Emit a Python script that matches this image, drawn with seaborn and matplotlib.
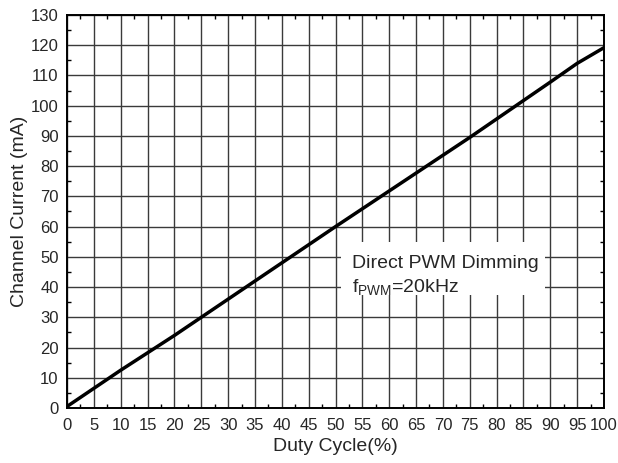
import matplotlib
matplotlib.use("Agg")
import matplotlib.pyplot as plt
from matplotlib.ticker import MultipleLocator
import numpy as np
import pandas as pd
import seaborn as sns

# values
duty = [0, 5, 10, 20, 25, 50, 75, 90, 95, 100]
current = [0.5, 6.5, 12.5, 24, 30, 60, 89.5, 107.8, 114, 119.2]

xTicks = list(range(0, 101, 5))
yTicks = list(range(0, 131, 10))

sns.set_style("ticks")
plt.rcParams['font.family'] = ['Liberation Sans', 'DejaVu Sans']
plt.rcParams['mathtext.fontset'] = 'custom'
plt.rcParams['mathtext.rm'] = 'Liberation Sans'

df = pd.DataFrame({"duty": duty, "current": current})

fig = plt.figure(figsize=(6.18, 4.63), dpi=100)
ax = fig.add_axes([67/618, 1 - 408/463, (604-67)/618, (408-15)/463])

ax.grid(True, color="#3a3a3a", linewidth=1.0)
ax.set_axisbelow(True)
sns.lineplot(data=df, x="duty", y="current", color="black", linewidth=2.5, ax=ax, zorder=3)

ax.set_xlim(0, 100)
ax.set_ylim(0, 130)
ax.set_xticks(xTicks)
ax.set_yticks(yTicks)
ax.xaxis.set_minor_locator(MultipleLocator(2.5))
ax.yaxis.set_minor_locator(MultipleLocator(5))
ax.tick_params(which="both", direction="in", top=True, right=True, labelsize=12)
ax.tick_params(axis="x", pad=7)
ax.tick_params(axis="y", pad=6)
ax.tick_params(which="major", length=0)
ax.tick_params(which="minor", length=3, width=1, color="black")
for s in ax.spines.values():
    s.set_linewidth(1.4)
    s.set_color("black")

ax.set_xlabel("Duty Cycle(%)", fontsize=14, labelpad=4)
ax.set_ylabel("Channel Current (mA)", fontsize=14, labelpad=2)

# white label block over the grid
ax.fill_between([51, 89], 37.3, 54.8, color="white", zorder=2, linewidth=0)
ax.text(53, 47.8, "Direct PWM Dimming", fontsize=14, va="center", ha="left", zorder=4)
ax.text(53, 39.6, r"f$_{\mathrm{PWM}}$=20kHz", fontsize=14, va="center", ha="left", zorder=4)

fig.savefig("out.png", dpi=100)
